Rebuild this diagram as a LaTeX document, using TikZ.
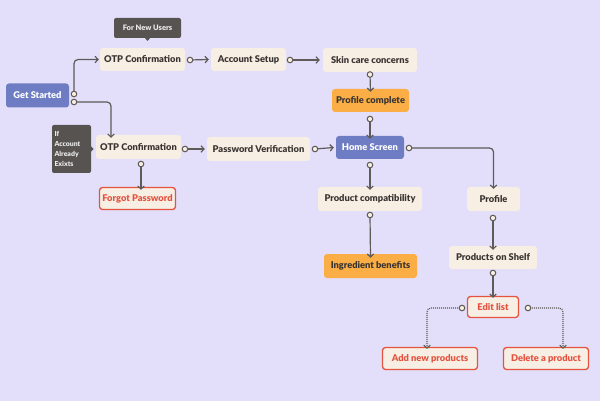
\documentclass[tikz,border=0pt]{standalone}
\usepackage{fontspec}
\setmainfont{Lato}[BoldFont={Lato Black}]
\usetikzlibrary{arrows.meta}
\definecolor{bgc}{HTML}{E3DFFA}
\definecolor{cream}{HTML}{F7EEE4}
\definecolor{bluec}{HTML}{6E7CC3}
\definecolor{orangec}{HTML}{FBAE45}
\definecolor{notec}{HTML}{575350}
\definecolor{redc}{HTML}{E5533F}
\definecolor{txtc}{HTML}{3A3532}
\definecolor{linec}{HTML}{5E5A58}
\tikzset{
  box/.style={rounded corners=3pt, fill=cream, draw=none, text=txtc, font=\fontsize{9.3}{11}\selectfont\bfseries, inner sep=0pt, align=center},
  bluebox/.style={box, fill=bluec, text=white},
  orangebox/.style={box, fill=orangec},
  redbox/.style={box, draw=redc, line width=1.3pt, text=redc},
  notebox/.style={rounded corners=2pt, fill=notec, text=white!92!black, font=\fontsize{7.5}{9}\selectfont\bfseries, inner sep=0pt},
  conn/.style={draw=linec, line width=1.2pt, rounded corners=4pt, -{Straight Barb[length=3pt,width=6.5pt]}},
  dconn/.style={conn, line width=1.1pt, dash pattern=on 1pt off 1pt},
  dot/.style={circle, draw=linec, fill=cream, line width=1pt, inner sep=0pt, minimum size=5.6pt},
}
\begin{document}
\begin{tikzpicture}[x=1pt,y=-1pt]
\fill[bgc] (0,0) rectangle (600,401);
\useasboundingbox (0,0) rectangle (600,401);
% nodes
\node[bluebox, minimum width=63pt, minimum height=24pt] (gs) at (37.5,95.5) {Get Started};
\node[box, minimum width=85pt, minimum height=23pt] (otp1) at (142.5,59.5) {OTP Confirmation};
\node[box, minimum width=75pt, minimum height=23pt] (acc) at (248.5,59.5) {Account Setup};
\node[box, minimum width=94pt, minimum height=24pt] (skin) at (370,60) {Skin care concerns};
\node[orangebox, minimum width=77pt, minimum height=23pt] (pc) at (370.5,100.5) {Profile complete};
\node[bluebox, minimum width=68pt, minimum height=23pt] (home) at (370,147.5) {Home Screen};
\node[box, minimum width=104pt, minimum height=24pt] (comp) at (370,199) {Product compatibility};
\node[box, minimum width=53pt, minimum height=24pt] (prof) at (493.5,199) {Profile};
\node[box, minimum width=85pt, minimum height=24pt] (otp2) at (138.5,147) {OTP Confirmation};
\node[box, minimum width=103pt, minimum height=24pt] (pv) at (258.5,149) {Password Verification};
\node[redbox, minimum width=76pt, minimum height=22pt] (fp) at (137.5,198.5) {Forgot Password};
\node[orangebox, minimum width=93pt, minimum height=24pt] (ing) at (370.5,266) {Ingredient benefits};
\node[box, minimum width=88pt, minimum height=23pt] (shelf) at (493,257.5) {Products on Shelf};
\node[redbox, minimum width=51pt, minimum height=21pt] (edit) at (493,307) {Edit list};
\node[redbox, minimum width=95pt, minimum height=22pt] (add) at (430,358.5) {Add new products};
\node[redbox, minimum width=85pt, minimum height=22pt] (del) at (546,358.5) {Delete a product};
% notes
\node[notebox, minimum width=67pt, minimum height=20pt] (nu) at (147.5,28) {For New Users};
\fill[notec] (144.5,37.5) -- (150.5,37.5) -- (147.5,41) -- cycle;
\node[notebox, minimum width=39pt, minimum height=48pt, align=left, text width=34pt, font=\fontsize{6.9}{10}\selectfont\bfseries] (note) at (71.5,149) {If\\Account\\Already\\Exixts};
\fill[notec] (90.5,146) -- (90.5,152) -- (93.5,149) -- cycle;
% connector start points
\coordinate (s1) at (74,94);
\coordinate (s2) at (74,102);
\coordinate (s3) at (190,60);
\coordinate (s4) at (290,60);
\coordinate (s5) at (370,74.5);
\coordinate (s6) at (370,119);
\coordinate (s7) at (185,149);
\coordinate (s8) at (315,149);
\coordinate (s9) at (141,164);
\coordinate (s10) at (409,148);
\coordinate (s11) at (370,165);
\coordinate (s12) at (370,215);
\coordinate (s13) at (493,218);
\coordinate (s14) at (493,273);
\coordinate (s15) at (462,308);
\coordinate (s16) at (528,308);
% connectors
\draw[conn] (s1) |- ([xshift=-1pt]otp1.west);
\draw[conn] (s2) -| ([xshift=-27.5pt,yshift=-3pt]otp2.north);
\draw[conn] (s3) -- ([xshift=-2pt]acc.west);
\draw[conn] (s4) -- ([xshift=-3pt]skin.west);
\draw[conn] (s5) -- ([yshift=-3pt]pc.north);
\draw[conn] (s6) -- ([yshift=-3pt]home.north);
\draw[conn] (s7) -- ([xshift=-2pt]pv.west);
\draw[conn] (s8) -- ([xshift=-2pt]home.west);
\draw[conn] (s9) -- ([yshift=-3pt,xshift=3.5pt]fp.north);
\draw[conn] (s10) -| ([yshift=-2pt]prof.north);
\draw[conn] (s11) -- ([yshift=-3pt]comp.north);
\draw[conn] (s12) -- ([yshift=-4pt]ing.north);
\draw[conn] (s13) -- ([yshift=-4pt]shelf.north);
\draw[conn] (s14) -- ([yshift=-2pt]edit.north);
\draw[dconn] (s15) -| ([yshift=-2pt,xshift=-3pt]add.north);
\draw[dconn] (s16) -| ([yshift=-2pt,xshift=17pt]del.north);
\foreach \s in {s1,s2,s3,s4,s5,s6,s7,s8,s9,s10,s11,s12,s13,s14,s15,s16}
  \node[dot] at (\s) {};
\end{tikzpicture}
\end{document}
